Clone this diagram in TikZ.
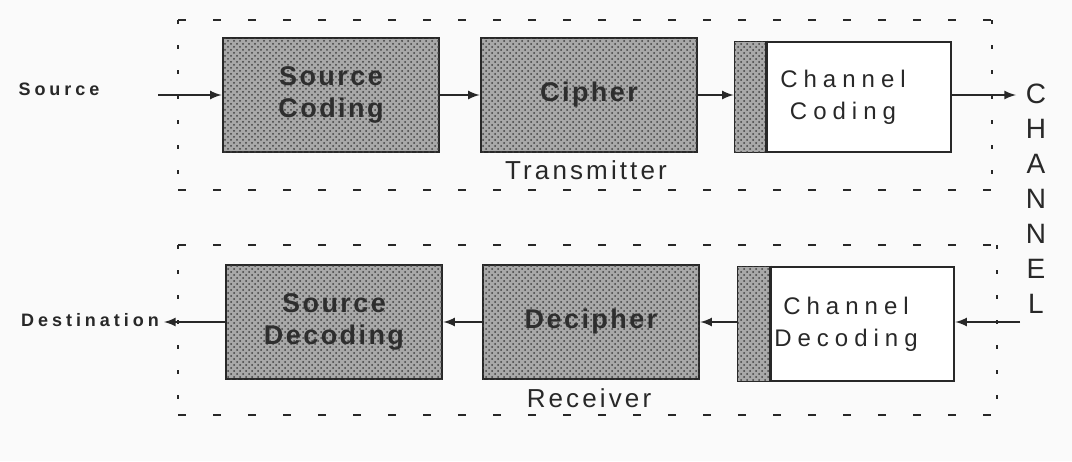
\documentclass[tikz,border=0pt]{standalone}
\usepackage{fontspec}
\setmainfont{Liberation Sans}
\newfontfamily\tagfont[LetterSpace=22]{Liberation Sans}
\newfontfamily\blockfont[LetterSpace=9]{Liberation Sans}
\newfontfamily\spreadfont[LetterSpace=25]{Liberation Sans}
\newfontfamily\groupfont[LetterSpace=12]{Liberation Sans}
\usepackage{tikz}
\usetikzlibrary{arrows, patterns}

\definecolor{ink}{RGB}{40,40,40}
\definecolor{paper}{RGB}{250,250,250}

\tikzset{
    block/.style={draw=ink, line width=1.3pt, minimum width=108pt, minimum height=57pt,
        inner sep=0pt, align=center},
    hatched/.style={block, fill=black!34, postaction={pattern=crosshatch dots, pattern color=black!75},
        text=black!82, font=\blockfont\fontsize{13.5}{16}\selectfont\bfseries},
    plain/.style={block, fill=white, text=ink, font=\spreadfont\fontsize{12}{16}\selectfont},
    hdash/.style={draw=ink, line width=1.2pt, dash pattern=on 4pt off 13.5pt},
    vdash/.style={draw=ink, line width=1.3pt, dash pattern=on 2pt off 10.5pt},
    flow/.style={draw=ink, line width=1pt, -latex},
}

\begin{document}
\begin{tikzpicture}[x=0.5pt, y=-0.5pt]
        \useasboundingbox[fill=paper] (0,0) rectangle (1072,461);

        % Transmitter group frame
        \draw[hdash] (178,20) -- (992,20);
        \draw[hdash] (178,190) -- (992,190);
        \draw[vdash] (178,20) -- (178,190);
        \draw[vdash] (992,20) -- (992,190);
        \node[text=ink, font=\groupfont\fontsize{13}{15}\selectfont] (tx) at (586,170) {Transmitter};

        % Receiver group frame
        \draw[hdash] (178,245) -- (997,245);
        \draw[hdash] (178,415) -- (997,415);
        \draw[vdash] (178,245) -- (178,415);
        \draw[vdash] (997,245) -- (997,415);
        \node[text=ink, font=\groupfont\fontsize{13}{15}\selectfont] (rx) at (589,398) {Receiver};

        % Transmitter chain
        \node[hatched] (scod) at (331,95) {Source\\Coding};
        \node[hatched] (ciph) at (589,95) {Cipher};
        \node[plain, minimum height=55pt] (ccod) at (843,97) {Channel\\Coding};
        \fill[black!34] ([xshift=0.6pt,yshift=-0.6pt]ccod.north west) rectangle ([xshift=16.5pt,yshift=0.6pt]ccod.south west);
        \fill[pattern=crosshatch dots, pattern color=black!75] ([xshift=0.6pt,yshift=-0.6pt]ccod.north west) rectangle ([xshift=16.5pt,yshift=0.6pt]ccod.south west);
        \draw[ink, line width=1.3pt] ([xshift=16.5pt]ccod.north west) -- ([xshift=16.5pt]ccod.south west);

        % Receiver chain
        \node[hatched] (sdec) at (334,322) {Source\\Decoding};
        \node[hatched] (deci) at (591,322) {Decipher};
        \node[plain] (cdec) at (846,324) {Channel\\Decoding};
        \fill[black!34] ([xshift=0.6pt,yshift=-0.6pt]cdec.north west) rectangle ([xshift=17pt,yshift=0.6pt]cdec.south west);
        \fill[pattern=crosshatch dots, pattern color=black!75] ([xshift=0.6pt,yshift=-0.6pt]cdec.north west) rectangle ([xshift=17pt,yshift=0.6pt]cdec.south west);
        \draw[ink, line width=1.3pt] ([xshift=17pt]cdec.north west) -- ([xshift=17pt]cdec.south west);

        % End points and the channel
        \node[text=ink, font=\tagfont\fontsize{9}{11}\selectfont\bfseries] (src) at (59,89) {Source};
        \node[text=ink, font=\tagfont\fontsize{9}{11}\selectfont\bfseries] (dst) at (90,320) {Destination};
        \node[text=ink, align=center, font=\fontsize{14}{17.5}\selectfont] (chan) at (1036,199) {C\\H\\A\\N\\N\\E\\L};
        \coordinate (src_out) at (158,95);
        \coordinate (dst_in) at (164,322);
        \coordinate (chan_in) at (1016,95);
        \coordinate (chan_out) at (1020,322);

        % Signal flow
        \draw[flow] (src_out) -- (scod.west);
        \draw[flow] (scod.east) -- (ciph.west);
        \draw[flow] (ciph.east) -- (ccod.west |- ciph.east);
        \draw[flow] (ccod.east |- chan_in) -- (chan_in);
        \draw[flow] (chan_out) -- (cdec.east |- chan_out);
        \draw[flow] (cdec.west |- deci.east) -- (deci.east);
        \draw[flow] (deci.west) -- (sdec.east);
        \draw[flow] (sdec.west) -- (dst_in);
    \end{tikzpicture}
\end{document}
